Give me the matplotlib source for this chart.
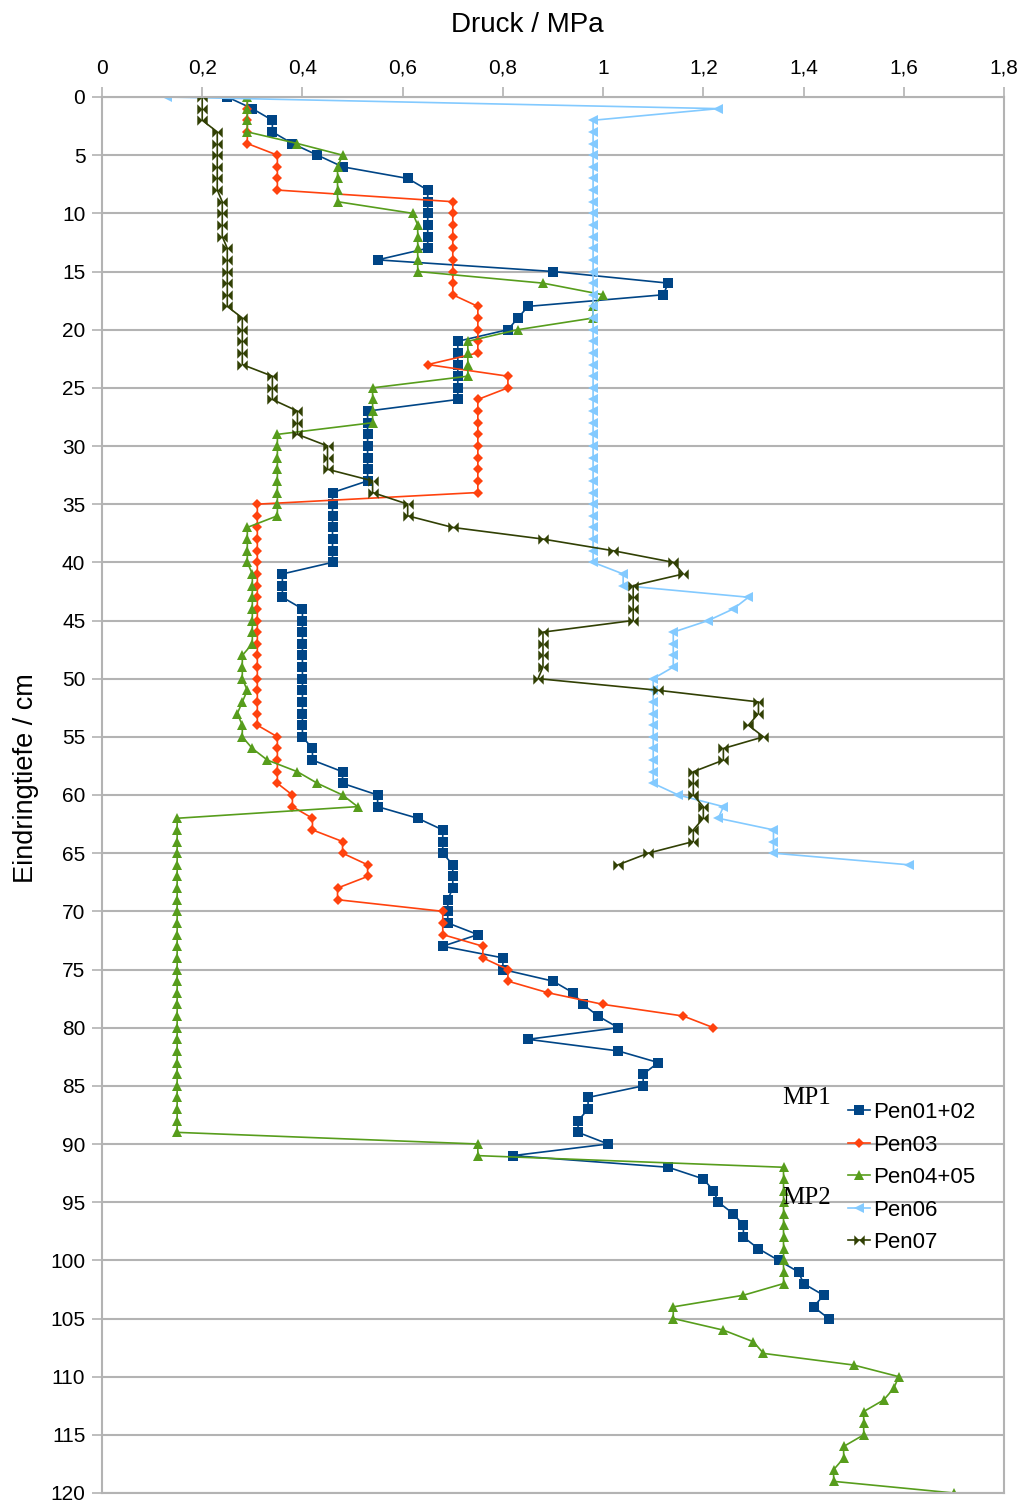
import numpy as np
import matplotlib
matplotlib.use("Agg")
import matplotlib.pyplot as plt
from matplotlib.path import Path

# Druck (MPa) je Zentimeter Eindringtiefe, ab 0 cm
pen01_02 = [0.25, 0.30, 0.34, 0.34, 0.38, 0.43, 0.48, 0.61, 0.65, 0.65,
            0.65, 0.65, 0.65, 0.65, 0.55, 0.90, 1.13, 1.12, 0.85, 0.83,
            0.81, 0.71, 0.71, 0.71, 0.71, 0.71, 0.71, 0.53, 0.53, 0.53,
            0.53, 0.53, 0.53, 0.53, 0.46, 0.46, 0.46, 0.46, 0.46, 0.46,
            0.46, 0.36, 0.36, 0.36, 0.40, 0.40, 0.40, 0.40, 0.40, 0.40,
            0.40, 0.40, 0.40, 0.40, 0.40, 0.40, 0.42, 0.42, 0.48, 0.48,
            0.55, 0.55, 0.63, 0.68, 0.68, 0.68, 0.70, 0.70, 0.70, 0.69,
            0.69, 0.69, 0.75, 0.68, 0.80, 0.80, 0.90, 0.94, 0.96, 0.99,
            1.03, 0.85, 1.03, 1.11, 1.08, 1.08, 0.97, 0.97, 0.95, 0.95,
            1.01, 0.82, 1.13, 1.20, 1.22, 1.23, 1.26, 1.28, 1.28, 1.31,
            1.35, 1.39, 1.40, 1.44, 1.42, 1.45]
pen03 = [0.29, 0.29, 0.29, 0.29, 0.29, 0.35, 0.35, 0.35, 0.35, 0.70,
         0.70, 0.70, 0.70, 0.70, 0.70, 0.70, 0.70, 0.70, 0.75, 0.75,
         0.75, 0.75, 0.75, 0.65, 0.81, 0.81, 0.75, 0.75, 0.75, 0.75,
         0.75, 0.75, 0.75, 0.75, 0.75, 0.31, 0.31, 0.31, 0.31, 0.31,
         0.31, 0.31, 0.31, 0.31, 0.31, 0.31, 0.31, 0.31, 0.31, 0.31,
         0.31, 0.31, 0.31, 0.31, 0.31, 0.35, 0.35, 0.35, 0.35, 0.35,
         0.38, 0.38, 0.42, 0.42, 0.48, 0.48, 0.53, 0.53, 0.47, 0.47,
         0.68, 0.68, 0.68, 0.76, 0.76, 0.81, 0.81, 0.89, 1.00, 1.16,
         1.22]
pen04_05 = [0.29, 0.29, 0.29, 0.29, 0.39, 0.48, 0.47, 0.47, 0.47, 0.47,
            0.62, 0.63, 0.63, 0.63, 0.63, 0.63, 0.88, 1.00, 0.98, 0.98,
            0.83, 0.73, 0.73, 0.73, 0.73, 0.54, 0.54, 0.54, 0.54, 0.35,
            0.35, 0.35, 0.35, 0.35, 0.35, 0.35, 0.35, 0.29, 0.29, 0.29,
            0.29, 0.30, 0.30, 0.30, 0.30, 0.30, 0.30, 0.30, 0.28, 0.28,
            0.28, 0.29, 0.28, 0.27, 0.28, 0.28, 0.30, 0.33, 0.39, 0.43,
            0.48, 0.51, 0.15, 0.15, 0.15, 0.15, 0.15, 0.15, 0.15, 0.15,
            0.15, 0.15, 0.15, 0.15, 0.15, 0.15, 0.15, 0.15, 0.15, 0.15,
            0.15, 0.15, 0.15, 0.15, 0.15, 0.15, 0.15, 0.15, 0.15, 0.15,
            0.75, 0.75, 1.36, 1.36, 1.36, 1.36, 1.36, 1.36, 1.36, 1.36,
            1.36, 1.36, 1.36, 1.28, 1.14, 1.14, 1.24, 1.30, 1.32, 1.50,
            1.59, 1.58, 1.56, 1.52, 1.52, 1.52, 1.48, 1.48, 1.46, 1.46,
            1.70]
pen06 = [0.13, 1.23, 0.98, 0.98, 0.98, 0.98, 0.98, 0.98, 0.98, 0.98,
         0.98, 0.98, 0.98, 0.98, 0.98, 0.98, 0.98, 0.98, 0.98, 0.98,
         0.98, 0.98, 0.98, 0.98, 0.98, 0.98, 0.98, 0.98, 0.98, 0.98,
         0.98, 0.98, 0.98, 0.98, 0.98, 0.98, 0.98, 0.98, 0.98, 0.98,
         0.98, 1.04, 1.04, 1.29, 1.26, 1.21, 1.14, 1.14, 1.14, 1.14,
         1.10, 1.10, 1.10, 1.10, 1.10, 1.10, 1.10, 1.10, 1.10, 1.10,
         1.15, 1.24, 1.23, 1.34, 1.34, 1.34, 1.61]
pen07 = [0.20, 0.20, 0.20, 0.23, 0.23, 0.23, 0.23, 0.23, 0.23, 0.24,
         0.24, 0.24, 0.24, 0.25, 0.25, 0.25, 0.25, 0.25, 0.25, 0.28,
         0.28, 0.28, 0.28, 0.28, 0.34, 0.34, 0.34, 0.39, 0.39, 0.39,
         0.45, 0.45, 0.45, 0.54, 0.54, 0.61, 0.61, 0.70, 0.88, 1.02,
         1.14, 1.16, 1.06, 1.06, 1.06, 1.06, 0.88, 0.88, 0.88, 0.88,
         0.87, 1.11, 1.31, 1.31, 1.29, 1.32, 1.24, 1.24, 1.18, 1.18,
         1.18, 1.20, 1.20, 1.18, 1.18, 1.09, 1.03]

x_ticks = [0, 0.2, 0.4, 0.6, 0.8, 1.0, 1.2, 1.4, 1.6, 1.8]
x_labels = ["0", "0,2", "0,4", "0,6", "0,8", "1", "1,2", "1,4", "1,6", "1,8"]
y_ticks = list(range(0, 121, 5))

# Schleife (Fliege) als Marker fuer Pen07
bowtie = Path([(-1, -1), (0, 0), (-1, 1), (-1, -1),
               (1, -1), (0, 0), (1, 1), (1, -1)],
              [Path.MOVETO, Path.LINETO, Path.LINETO, Path.CLOSEPOLY,
               Path.MOVETO, Path.LINETO, Path.LINETO, Path.CLOSEPOLY])

plt.rcParams['font.family'] = ['Liberation Sans', 'DejaVu Sans']

W, H = 1027, 1502
fig = plt.figure(figsize=(W / 100, H / 100), dpi=100)
ax = fig.add_axes([102 / W, 1 - 1493 / H, 902 / W, 1396 / H])

series = [
    ("Pen01+02", pen01_02, "#004586", "s", 7),
    ("Pen03", pen03, "#ff420e", "D", 5),
    ("Pen04+05", pen04_05, "#579d1c", "^", 7),
    ("Pen06", pen06, "#83caff", "<", 7),
    ("Pen07", pen07, "#314004", bowtie, 7.5),
]
for name, vals, col, mk, ms in series:
    depth = np.arange(len(vals))
    ax.plot(vals, depth, color=col, lw=1.2, marker=mk, markersize=ms,
            markeredgewidth=0, label=name)

ax.set_xlim(0, 1.8)
ax.set_ylim(120, 0)
ax.xaxis.tick_top()
ax.set_xticks(x_ticks)
ax.set_xticklabels(x_labels)
ax.set_yticks(y_ticks)
ax.grid(axis='y', color='#b3b3b3', lw=1.5)
ax.set_axisbelow(True)
for s in ax.spines.values():
    s.set_color('#b3b3b3')
    s.set_linewidth(1.5)
ax.tick_params(axis='both', color='#b3b3b3', labelcolor='black',
               length=7, width=1.2, labelsize=15)
ax.tick_params(axis='x', pad=7)
ax.tick_params(axis='y', pad=5)

fig.text(527 / W, 1 - 25 / H, "Druck / MPa", ha='center', va='center',
         fontsize=20)
fig.text(26 / W, 1 - 778 / H, "Eindringtiefe / cm", ha='center',
         va='center', rotation=90, fontsize=19.5)

ax.legend(loc='upper left', bbox_to_anchor=(848 / W, 1 - 1102 / H),
          bbox_transform=fig.transFigure, frameon=False, fontsize=16,
          handlelength=1.0, handletextpad=0.15, labelspacing=0.52,
          borderpad=0, borderaxespad=0)

fig.text(782 / W, 1 - 1098 / H, "MP1", family='Liberation Serif',
         fontsize=18, va='center')
fig.text(782 / W, 1 - 1198 / H, "MP2", family='Liberation Serif',
         fontsize=18, va='center')

fig.savefig("out.png", dpi=100)
